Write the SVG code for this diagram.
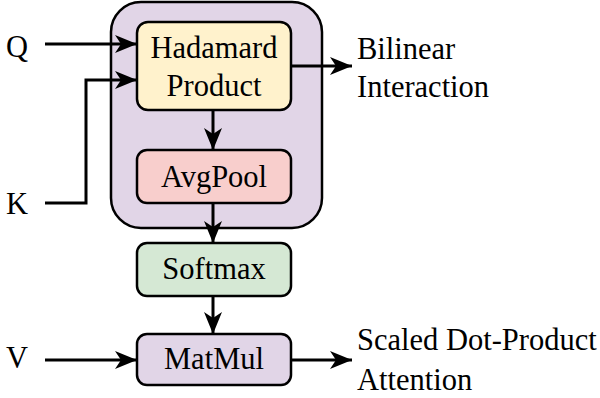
<svg xmlns="http://www.w3.org/2000/svg" width="600" height="398" viewBox="0 0 600 398">
<defs>
<marker id="ah" markerWidth="22" markerHeight="18" refX="22" refY="9" orient="auto" markerUnits="userSpaceOnUse">
<path d="M0,0 L22,9 L0,18 L6,9 Z" fill="#000"/>
</marker>
<style>
.box{stroke:#000;stroke-width:2.5}
.t{font-family:"Liberation Serif","Times New Roman",serif;font-size:30.5px;fill:#000}
.c{text-anchor:middle}
.e{fill:none;stroke:#000;stroke-width:3;marker-end:url(#ah)}
</style>
</defs>
<g id="group">
<rect class="box" x="111" y="2" width="211" height="226" rx="30" fill="#e1d5e7"/>
</g>
<g id="hadamard">
<rect class="box" x="137" y="22" width="154" height="88" rx="11" fill="#fff2cc"/>
<text class="t c" x="214" y="58">Hadamard</text>
<text class="t c" x="214" y="96">Product</text>
</g>
<g id="avgpool">
<rect class="box" x="137" y="150" width="154" height="53" rx="10" fill="#f8cecc"/>
<text class="t c" x="214" y="187">AvgPool</text>
</g>
<g id="softmax">
<rect class="box" x="137" y="243" width="154" height="53" rx="10" fill="#d5e8d4"/>
<text class="t c" x="214" y="279">Softmax</text>
</g>
<g id="matmul">
<rect class="box" x="137" y="334" width="154" height="51" rx="10" fill="#e1d5e7"/>
<text class="t c" x="214" y="369">MatMul</text>
</g>
<g id="labels">
<text class="t" x="6" y="57">Q</text>
<text class="t" x="6" y="214">K</text>
<text class="t" x="6" y="368">V</text>
<text class="t" x="357" y="59">Bilinear</text>
<text class="t" x="357" y="97">Interaction</text>
<text class="t" x="357" y="350">Scaled Dot-Product</text>
<text class="t" x="357" y="390">Attention</text>
</g>
<g id="connectors">
<path class="e" d="M45,44 L137,44"/>
<path class="e" d="M45,203 L86,203 L86,80 L137,80"/>
<path class="e" d="M291,66 L352,66"/>
<path class="e" d="M213,110 L213,150"/>
<path class="e" d="M213,203 L213,243"/>
<path class="e" d="M213,296 L213,334"/>
<path class="e" d="M45,360 L137,360"/>
<path class="e" d="M291,360 L352,360"/>
</g>
</svg>
